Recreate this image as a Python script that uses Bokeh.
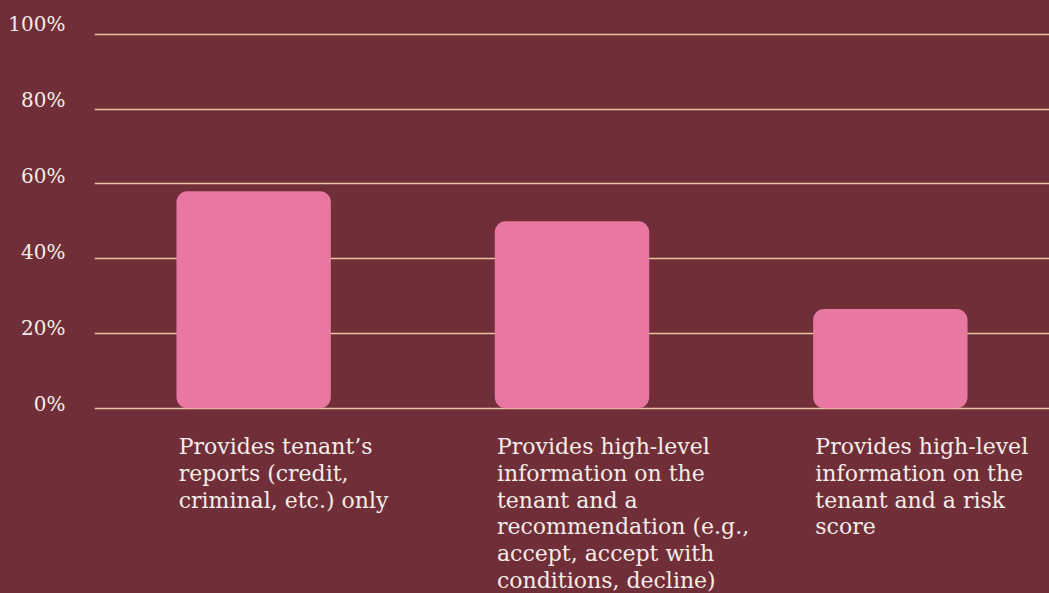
from bokeh.plotting import figure
from bokeh.models import (ColumnDataSource, Range1d, FactorRange, FixedTicker,
                          LinearAxis, CustomJSTickFormatter)
from bokeh.core.properties import value
from bokeh.embed import file_html
from bokeh.resources import INLINE

categories = ["c1", "c2", "c3"]
labels = [
    "Provides tenant’s\nreports (credit,\ncriminal, etc.) only",
    "Provides high-level\ninformation on the\ntenant and a\nrecommendation (e.g.,\naccept, accept with\nconditions, decline)",
    "Provides high-level\ninformation on the\ntenant and a risk\nscore",
]
values = [58, 50, 26.5]
y_ticks = [0, 20, 40, 60, 80, 100]

BG = "#702F38"
GRID = "#E9C2A2"
BAR = "#E878A2"
TXT = "#F4ECE8"
FONT = "DejaVu Serif"

src = ColumnDataSource(dict(cat=categories, val=values, label=labels))

p = figure(width=1049, height=593, output_backend="svg", toolbar_location=None,
           x_range=FactorRange(*categories, range_padding=0),
           y_range=Range1d(-49.55, 106.34),
           x_axis_location=None, y_axis_location=None,
           min_border_left=94, min_border_right=0,
           min_border_top=10, min_border_bottom=0)
p.background_fill_color = BG
p.border_fill_color = BG
p.outline_line_color = None
p.styles = {"background-color": BG}

p.vbar(x="cat", top="val", bottom=0, width=0.485, source=src, fill_color=BAR,
       line_color=None, border_radius=11)

p.text(x="cat", y=0, text="label", source=src, x_offset=-75, y_offset=26,
       text_align="left", text_baseline="top", text_font=value(FONT),
       text_font_size="22px", text_color=TXT, text_line_height=1.07)

p.xgrid.grid_line_color = None
p.ygrid.ticker = FixedTicker(ticks=y_ticks)
p.ygrid.grid_line_color = GRID
p.ygrid.grid_line_width = 1.5

p.extra_y_ranges = {"lab": Range1d(-49.87, 103.55)}
ax = LinearAxis(y_range_name="lab", ticker=FixedTicker(ticks=y_ticks),
                formatter=CustomJSTickFormatter(code="return tick + '%';"))
ax.axis_line_color = None
ax.major_tick_line_color = None
ax.minor_tick_line_color = None
ax.major_tick_out = 0
ax.major_tick_in = 0
ax.major_label_standoff = 29
ax.major_label_text_font = FONT
ax.major_label_text_font_size = "20px"
ax.major_label_text_color = TXT
p.add_layout(ax, "left")

open("out.html", "w").write(file_html(p, INLINE))
